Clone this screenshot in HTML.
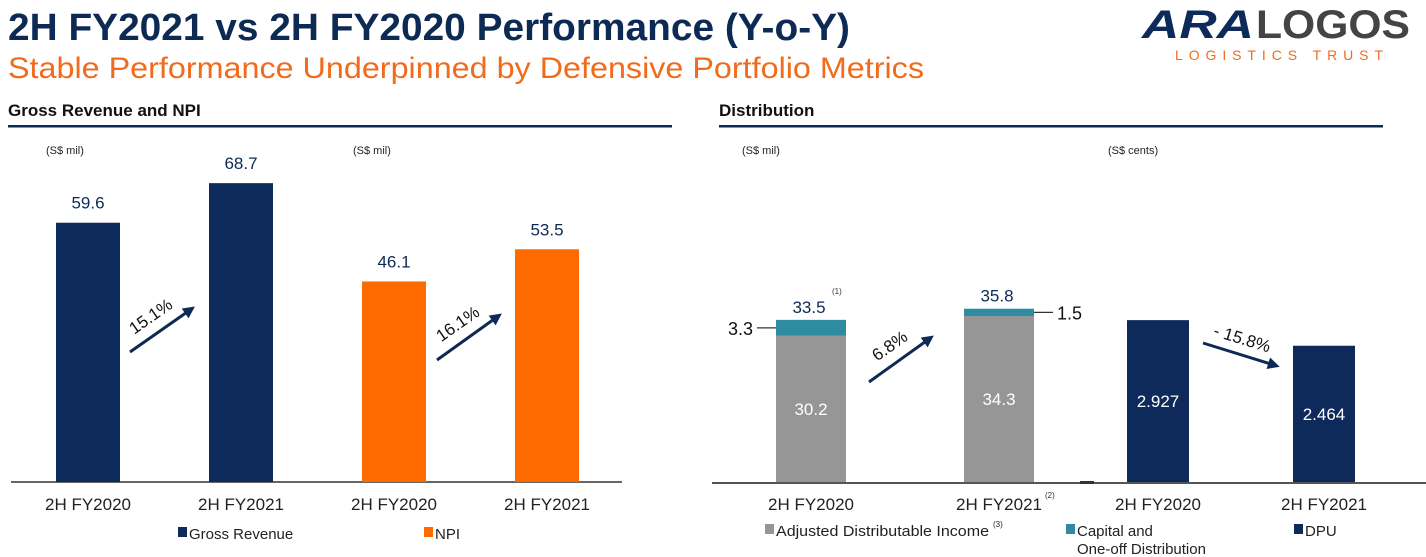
<!DOCTYPE html>
<html><head><meta charset="utf-8"><style>
body{margin:0;width:1426px;height:557px;background:#fff;overflow:hidden;font-family:"Liberation Sans",sans-serif}
svg{position:absolute;left:0;top:0}
</style></head><body>
<svg id="s" width="1426" height="557">
<text x="8" y="40" font-size="38" font-weight="bold" fill="#0d2a55" textLength="842" lengthAdjust="spacingAndGlyphs">2H FY2021 vs 2H FY2020 Performance (Y-o-Y)</text>
<text x="8" y="78" font-size="30" fill="#f26b1d" textLength="916" lengthAdjust="spacingAndGlyphs">Stable Performance Underpinned by Defensive Portfolio Metrics</text>
<g>
<text x="1142" y="38" font-size="40" font-weight="bold" font-style="italic" fill="#0d2a5a" textLength="112" lengthAdjust="spacingAndGlyphs">ARA</text>
<text x="1256" y="38" font-size="40" font-weight="bold" fill="#444" textLength="154" lengthAdjust="spacingAndGlyphs">LOGOS</text>
<text x="1175" y="60" font-size="14" fill="#f26b1d" textLength="208" lengthAdjust="spacing">LOGISTICS TRUST</text>
</g>
<text x="8" y="116" font-size="17" font-weight="bold" fill="#111">Gross Revenue and NPI</text>
<rect x="8" y="125" width="664" height="2.5" fill="#0d2a55"/>
<text x="719" y="116" font-size="17" font-weight="bold" fill="#111">Distribution</text>
<rect x="719" y="125" width="664" height="2.5" fill="#0d2a55"/>
<text x="46" y="154" font-size="11" fill="#222">(S$ mil)</text>
<text x="353" y="154" font-size="11" fill="#222">(S$ mil)</text>
<text x="742" y="154" font-size="11" fill="#222">(S$ mil)</text>
<text x="1108" y="154" font-size="11" fill="#222">(S$ cents)</text>
<rect x="11" y="481" width="611" height="2" fill="#666"/>
<rect x="712" y="482" width="714" height="2" fill="#555"/>
<rect x="1080" y="481" width="14" height="3" fill="#333"/>
<defs><marker id="ah" markerWidth="4" markerHeight="4" refX="2" refY="2" orient="auto"><path d="M0,0L4,2L0,4z" fill="#0d2a55"/></marker></defs>
<g id="g"></g>
<g font-size="15" fill="#222">
<rect x="178" y="527" width="9" height="10" fill="#0d2a5a"/><text x="189" y="539">Gross Revenue</text>
<rect x="424" y="527" width="9" height="10" fill="#ff6a00"/><text x="435" y="539">NPI</text>
<rect x="765" y="524" width="9" height="10" fill="#969696"/><text x="776" y="536" textLength="213" lengthAdjust="spacingAndGlyphs">Adjusted Distributable Income</text><text x="993" y="527" font-size="8">(3)</text>
<rect x="1066" y="524" width="9" height="10" fill="#2e8ba0"/><text x="1077" y="536">Capital and</text><text x="1077" y="554">One-off Distribution</text>
<rect x="1294" y="524" width="9" height="10" fill="#0d2a5a"/><text x="1305" y="536">DPU</text>
</g>
</svg>
<script>
const grCats=["2H FY2020","2H FY2021"];
const grVals=[59.6,68.7];
const npiVals=[46.1,53.5];
const adiVals=[30.2,34.3];
const capVals=[3.3,1.5];
const distTotals=["33.5","35.8"];
const dpuVals=[2.927,2.464];
const grChange="15.1%", npiChange="16.1%", distChange="6.8%", dpuChange="- 15.8%";
const NS="http://www.w3.org/2000/svg", g=document.getElementById('g');
function el(t,a,txt){const e=document.createElementNS(NS,t);for(const k in a)e.setAttribute(k,a[k]);if(txt!=null)e.textContent=txt;g.appendChild(e);return e;}
const base=482;
const yL=v=>base-v*4.35;
const yD=v=>base-v*4.84;
const yP=v=>base-v*55.3;
[[grVals,"#0d2a5a",[56,209],'gr'],[npiVals,"#ff6a00",[362,515],'npi']].forEach(([vals,c,xs,n])=>{
 vals.forEach((v,i)=>{
  const b=el('rect',{x:xs[i],y:yL(v),width:64,height:base-yL(v),fill:c});
  
  
  const t=el('text',{x:xs[i]+32,y:yL(v)-14,'font-size':17,fill:'#0d2a55','text-anchor':'middle'},v.toFixed(1));
  
  
  const l=el('text',{x:xs[i]+32,y:510,'font-size':17,fill:'#222','text-anchor':'middle'},grCats[i]);
  
  
 });
});
const dx=[776,964];
adiVals.forEach((v,i)=>{
 const top=yD(v+capVals[i]);
 const a=el('rect',{x:dx[i],y:yD(v),width:70,height:base-yD(v),fill:'#969696'});
 
 
 const c=el('rect',{x:dx[i],y:top,width:70,height:yD(v)-top,fill:'#2e8ba0'});
 
 
 const t=el('text',{x:dx[i]+35,y:yD(v/2)+6,'font-size':17,fill:'#fff','text-anchor':'middle'},v.toFixed(1));
 
 
 const tt=el('text',{x:dx[i]+33,y:top-7,'font-size':17,fill:'#0d2a55','text-anchor':'middle'},distTotals[i]);
 
 
 const l=el('text',{x:dx[i]+35,y:510,'font-size':17,fill:'#222','text-anchor':'middle'},grCats[i]);
 
 
 const cy=(top+yD(v))/2;
 const lx=i==0?dx[i]-19:dx[i]+70, lx2=i==0?dx[i]:dx[i]+89;
 el('line',{x1:lx,y1:cy,x2:lx2,y2:cy,stroke:'#333','stroke-width':1.2});
 const cl=el('text',{x:i==0?dx[i]-23:dx[i]+93,y:cy+7,'font-size':18,fill:'#111','text-anchor':i==0?'end':'start'},capVals[i].toFixed(1));
 
 
});
el('text',{x:832,y:294,'font-size':8,fill:'#333'},'(1)');
el('text',{x:1045,y:498,'font-size':8,fill:'#333'},'(2)');
const px=[1127,1293];
dpuVals.forEach((v,i)=>{
 const b=el('rect',{x:px[i],y:yP(v),width:62,height:base-yP(v),fill:'#0d2a5a'});
 
 
 const t=el('text',{x:px[i]+31,y:yP(v/2)+6,'font-size':17,fill:'#fff','text-anchor':'middle'},v.toFixed(3));
 
 
 const l=el('text',{x:px[i]+31,y:510,'font-size':17,fill:'#222','text-anchor':'middle'},grCats[i]);
 
 
});
[[130,352,190,310,grChange,-35,'gr'],[437,360,497,317,npiChange,-35,'npi'],[869,382,929,339,distChange,-35,'dist'],[1203,343,1274,365,dpuChange,17,'dpu']].forEach(([x1,y1,x2,y2,txt,ang,n])=>{
 const a=el('line',{x1,y1,x2,y2,stroke:'#0d2a55','stroke-width':3,'marker-end':'url(#ah)'});
 
 
 const mx=(x1+x2)/2, my=(y1+y2)/2;
 const ox=ang<0?-6:2, oy=-10;
 const t=el('text',{x:mx+ox,y:my+oy,'font-size':17,fill:'#111','text-anchor':'middle',transform:`rotate(${ang} ${mx+ox} ${my+oy})`},txt);
 
 
});
</script>
</body></html>
